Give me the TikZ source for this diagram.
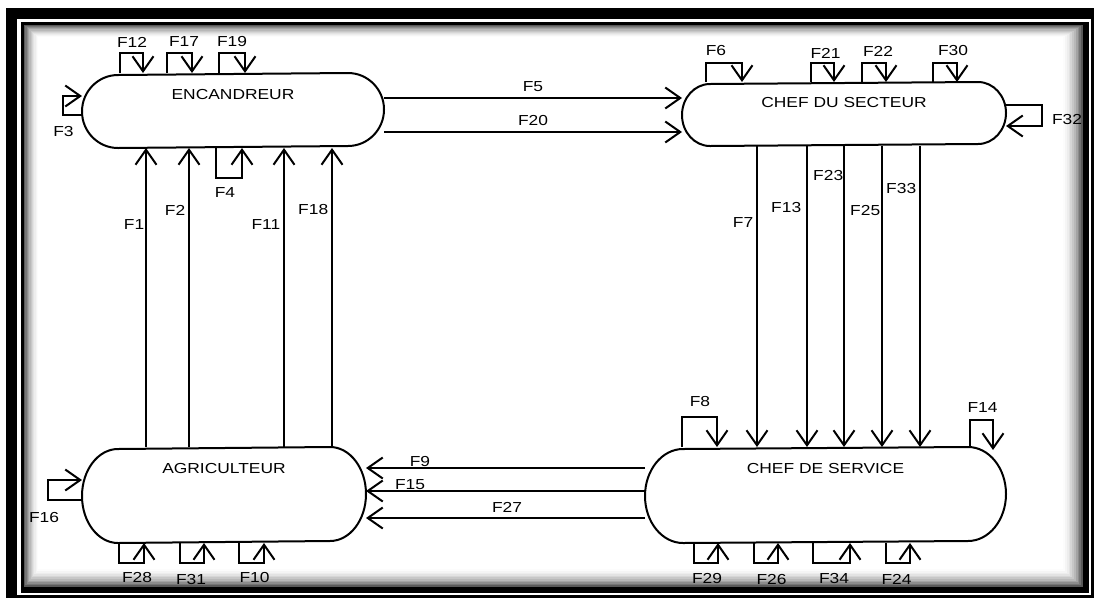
\documentclass[tikz,border=0pt]{standalone}
\usepackage{fontspec}
\setmainfont{Liberation Sans}
\usetikzlibrary{arrows.meta,calc,positioning}

\begin{document}
\begin{tikzpicture}[x=1pt, y=-1pt, >={Straight Barb[length=15pt,width=21pt]}, line width=2pt,
    lbl/.style={font=\fontsize{14.5}{16}\selectfont, xscale=1.2, inner sep=0.5pt},
    etat/.style={draw=none, rectangle, inner sep=0pt},
    flux/.style={->, line join=miter}]
\useasboundingbox (0,0) rectangle (1094,598);

% ==================== cadre ====================
\fill[black] (6,8) rectangle (1094,598);
\fill[white] (17,19) rectangle (1091,595);
\fill[black] (21,22) rectangle (1089,593);
\foreach \k in {0,...,12}{
  \pgfmathtruncatemacro\c{65*(1-\k/12)^2}
  \fill[black!\c] ({24+1.3*\k},{25+1.1*\k}) rectangle ({1083-1.8*\k},{587-1.6*\k});
}

% ==================== acteurs ====================
\node[etat, minimum width=300pt, minimum height=73pt] (enc) at (233,110.5) {};
\node[etat, minimum width=322pt, minimum height=62pt] (sec) at (844,114) {};
\node[etat, minimum width=282pt, minimum height=94pt] (agr) at (224,495) {};
\node[etat, minimum width=359pt, minimum height=94pt] (ser) at (825.5,495) {};

% contours arrondis
\foreach \n/\rx/\ry in {enc/36/36.5, sec/28/31, agr/36/47, ser/38/47}{
  \draw ([xshift=-\rx pt]\n.north east)
    arc[start angle=90, end angle=-90, x radius=\rx pt, y radius=\ry pt]
    -- ([xshift=\rx pt]\n.south west)
    arc[start angle=270, end angle=90, x radius=\rx pt, y radius=\ry pt] -- cycle;
}

\node[lbl] (encT) at ([yshift=-22pt]enc.north) {ENCANDREUR};
\node[lbl] (secT) at ([yshift=-21pt]sec.north) {CHEF DU SECTEUR};
\node[lbl] (agrT) at ([yshift=-21pt]agr.north) {AGRICULTEUR};
\node[lbl] (serT) at ([yshift=-21pt]ser.north) {CHEF DE SERVICE};

% ==================== ENCANDREUR ====================
\foreach \xa/\xb/\xl/\t in {120/143/132/F12, 167/192/184/F17, 219/245/232/F19}{
  \draw[flux] (\xa,0 |- enc.north) -- (\xa,53) -- (\xb,53) -- (\xb,0 |- enc.north);
  \node[lbl] (l\t) at (\xl,42) {\t};
}
\draw[flux] (216,0 |- enc.south) -- (216,178) -- (242,178) -- (242,0 |- enc.south);
\node[lbl] (lF4) at (225,193) {F4};
\draw[flux] (enc.west |- 0,115) -- (63,115) -- (63,96) -- (enc.west |- 0,96);
\node[lbl] (lF3) at (63.5,132) {F3};

% vers le chef du secteur
\draw[flux] (enc.east |- 0,98) -- (sec.west |- 0,98) node[lbl, midway, above=5pt] (lF5) {F5};
\draw[flux] (enc.east |- 0,132) -- (sec.west |- 0,132) node[lbl, midway, above=5pt] (lF20) {F20};

% agriculteur -> encandreur
\foreach \x/\xr/\ly/\t in {146/146/225/F1, 189/187/210/F2, 284/282/225/F11, 332/330/210/F18}{
  \draw[flux] (\x,0 |- agr.north) -- (\x,0 |- enc.south);
  \node[lbl, anchor=east] (l\t) at (\xr,\ly) {\t};
}

% ==================== CHEF DU SECTEUR ====================
\foreach \xa/\xb/\xl/\ly/\t in {706/742/716/51/F6, 811/834/825.5/53/F21, 862/886/878/51/F22, 933/957/953/51/F30}{
  \draw[flux] (\xa,0 |- sec.north) -- (\xa,63) -- (\xb,63) -- (\xb,0 |- sec.north);
  \node[lbl] (l\t) at (\xl,\ly) {\t};
}
\draw[flux] (sec.east |- 0,105) -- (1042,105) -- (1042,126) -- (sec.east |- 0,126);
\node[lbl] (lF32) at (1067,120) {F32};

% chef du secteur -> chef de service
\foreach \x/\xr/\ly/\t in {757/755/223/F7, 807/803/208/F13, 844/845/176/F23, 882/882/211/F25, 920/918/189/F33}{
  \draw[flux] (\x,0 |- sec.south) -- (\x,0 |- ser.north);
  \node[lbl, anchor=east] (l\t) at (\xr,\ly) {\t};
}

% ==================== CHEF DE SERVICE ====================
\draw[flux] (682,0 |- ser.north) -- (682,417) -- (717,417) -- (717,0 |- ser.north);
\node[lbl] (lF8) at (700,401) {F8};
\coordinate (f14) at (993,450);
\draw[flux] (970,0 |- ser.north) -- (970,420) -- (993,420) -- (f14);
\node[lbl] (lF14) at (982.5,408) {F14};
\foreach \xa/\xb/\xl/\ly/\t in {694/718/707/578/F29, 754/778/771.5/579/F26, 813/850/834/578/F34, 886/910/896.5/579/F24}{
  \draw[flux] (\xa,0 |- ser.south) -- (\xa,563) -- (\xb,563) -- (\xb,0 |- ser.south);
  \node[lbl] (l\t) at (\xl,\ly) {\t};
}

% chef de service -> agriculteur
\draw[flux] (ser.west |- 0,468) -- (agr.east |- 0,468);
\draw[flux] (ser.west |- 0,491) -- (agr.east |- 0,491);
\draw[flux] (ser.west |- 0,518) -- (agr.east |- 0,518);
\node[lbl] (lF9) at (420,461) {F9};
\node[lbl] (lF15) at (410,485) {F15};
\node[lbl] (lF27) at (507,507) {F27};

% ==================== AGRICULTEUR ====================
\draw[flux] (agr.west |- 0,500) -- (48,500) -- (48,480) -- (agr.west |- 0,480);
\node[lbl] (lF16) at (44,517) {F16};
\foreach \xa/\xb/\xl/\ly/\t in {119/144/137/577/F28, 180/204/191/579/F31, 239/264/254.5/577/F10}{
  \draw[flux] (\xa,0 |- agr.south) -- (\xa,563) -- (\xb,563) -- (\xb,0 |- agr.south);
  \node[lbl] (l\t) at (\xl,\ly) {\t};
}
\end{tikzpicture}
\end{document}
